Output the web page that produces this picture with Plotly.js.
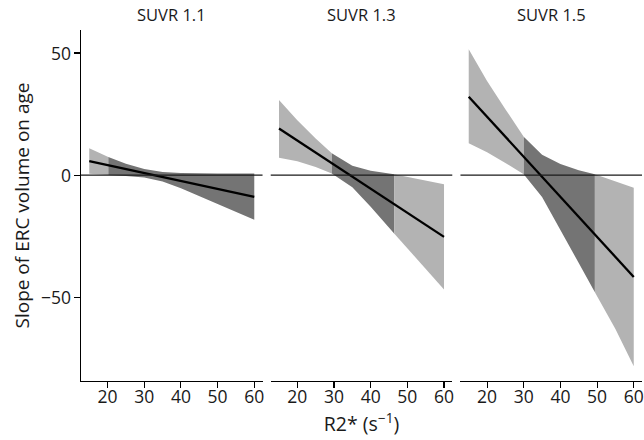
<!DOCTYPE html>
<html>
<head>
<meta charset="utf-8">
<script src="https://cdn.plot.ly/plotly-3.0.1.min.js"></script>
<style>html,body{margin:0;padding:0;background:#fff;}#chart{width:644px;height:440px;}</style>
</head>
<body>
<div id="chart"></div>
<script>
// ----- data -----
const panelTitles = ['SUVR 1.1', 'SUVR 1.3', 'SUVR 1.5'];
const xTicks = [20, 30, 40, 50, 60];
const yTicks = [-50, 0, 50];

const r2_11  = [15, 20.2, 25, 30, 35, 40, 45, 50, 55, 60];
const est_11 = [5.7, 4.0, 2.5, 0.8, -0.8, -2.4, -4.0, -5.6, -7.2, -8.9];
const hi_11  = [11.0, 7.4, 4.6, 2.5, 1.3, 0.9, 0.7, 0.7, 0.7, 0.7];
const lo_11  = [0.5, 0.0, -0.4, -1.0, -2.6, -5.4, -8.5, -11.8, -15.0, -18.3];
const dark_11 = [20.2, 60];

const r2_13  = [15, 20, 25, 29.4, 35, 40, 46.4, 50, 55, 60];
const est_13 = [19.1, 14.2, 9.2, 4.9, -0.6, -5.6, -11.9, -15.4, -20.4, -25.3];
const hi_13  = [30.7, 22.5, 15.0, 8.9, 3.8, 1.8, 0.3, -0.8, -2.3, -3.8];
const lo_13  = [7.1, 5.7, 3.3, 0.7, -5.0, -13.0, -23.9, -30.0, -38.4, -46.8];
const dark_13 = [29.4, 46.4];

const r2_15  = [15, 20, 25, 30, 35, 40, 45, 49.4, 55, 60];
const est_15 = [32.1, 23.9, 15.7, 7.5, -0.7, -8.9, -17.1, -24.3, -33.5, -41.7];
const hi_15  = [51.5, 38.5, 27.0, 15.7, 8.3, 4.5, 2.0, 0.3, -2.5, -5.2];
const lo_15  = [13.0, 9.3, 5.0, 0.3, -9.0, -22.5, -36.0, -48.0, -63.0, -78.3];
const dark_15 = [30, 49.4];

// ----- styling -----
const LIGHT = '#b3b3b3';
const DARK = '#747474';
const FONT = 'Open Sans, Noto Sans, DejaVu Sans, sans-serif';
const TXT = '#1a1a1a';
const PLOT_W = 561;

const panels = [
  {x: r2_11, est: est_11, hi: hi_11, lo: lo_11, dark: dark_11, xa: 'x'},
  {x: r2_13, est: est_13, hi: hi_13, lo: lo_13, dark: dark_13, xa: 'x2'},
  {x: r2_15, est: est_15, hi: hi_15, lo: lo_15, dark: dark_15, xa: 'x3'}
];

function band(p, idx, color) {
  if (idx.length < 2) return null;
  const xs = idx.map(i => p.x[i]);
  const up = idx.map(i => p.hi[i]);
  const dn = idx.map(i => p.lo[i]);
  return {
    type: 'scatter', mode: 'lines', xaxis: p.xa, yaxis: 'y',
    x: xs.concat(xs.slice().reverse()),
    y: up.concat(dn.slice().reverse()),
    fill: 'toself', fillcolor: color, line: {width: 0, color: color},
    hoverinfo: 'skip', showlegend: false
  };
}

const traces = [];
panels.forEach(p => {
  const all = p.x.map((_, i) => i);
  const left = all.filter(i => p.x[i] <= p.dark[0]);
  const mid = all.filter(i => p.x[i] >= p.dark[0] && p.x[i] <= p.dark[1]);
  const right = all.filter(i => p.x[i] >= p.dark[1]);
  [band(p, left, LIGHT), band(p, mid, DARK), band(p, right, LIGHT)].forEach(t => { if (t) traces.push(t); });
});
panels.forEach(p => {
  traces.push({
    type: 'scatter', mode: 'lines', xaxis: p.xa, yaxis: 'y',
    x: p.x, y: p.est, line: {color: '#000', width: 2.3},
    hoverinfo: 'skip', showlegend: false
  });
});

const gap = 8.2 / PLOT_W;
const w = (1 - 2 * gap) / 3;
const doms = [[0, w], [w + gap, 2 * w + gap], [2 * w + 2 * gap, 1]];

function xaxis(dom) {
  return {
    domain: dom, anchor: 'y', range: [12.75, 62.25],
    tickvals: xTicks, ticktext: xTicks.map(String),
    ticks: 'outside', ticklen: 6, tickwidth: 1.1, tickcolor: '#000',
    showline: true, linecolor: '#000', linewidth: 1.1,
    showgrid: false, zeroline: false,
    ticklabelstandoff: -6,
    tickfont: {family: FONT, size: 17.5, color: TXT}
  };
}

// facet strip titles
const annotations = panelTitles.map((t, i) => ({
  text: t, xref: 'paper', yref: 'paper',
  x: (doms[i][0] + doms[i][1]) / 2, y: 1 + 15 / 351,
  xanchor: 'center', yanchor: 'middle', showarrow: false,
  font: {family: FONT, size: 16.5, color: TXT}
}));
// y tick labels placed at the y axis values
yTicks.forEach(v => annotations.push({
  text: v < 0 ? '\u2212' + Math.abs(v) : String(v),
  xref: 'paper', yref: 'y', x: -9 / PLOT_W, y: v,
  xanchor: 'right', yanchor: 'middle', showarrow: false, borderpad: 0,
  font: {family: FONT, size: 17.5, color: TXT}
}));
// y axis title
annotations.push({
  text: 'Slope of ERC volume on age', xref: 'paper', yref: 'paper',
  x: -60 / PLOT_W, y: 0.5, xanchor: 'center', yanchor: 'middle',
  textangle: -90, showarrow: false,
  font: {family: FONT, size: 19, color: TXT}
});

const layout = {
  width: 644, height: 440,
  margin: {l: 81, r: 2, t: 30, b: 59},
  paper_bgcolor: '#fff', plot_bgcolor: '#fff',
  showlegend: false,
  xaxis: xaxis(doms[0]),
  xaxis2: Object.assign(xaxis(doms[1]), {
    title: {text: 'R2* (s<sup>\u2212</sup><sup>1</sup>)', font: {family: FONT, size: 19.5, color: TXT}, standoff: 4}
  }),
  xaxis3: xaxis(doms[2]),
  yaxis: {
    anchor: 'x', range: [-84.3, 59.4],
    tickvals: yTicks, showticklabels: false,
    ticks: 'outside', ticklen: 6, tickwidth: 1.1, tickcolor: '#000',
    showline: true, linecolor: '#000', linewidth: 1.1,
    showgrid: false, zeroline: false
  },
  shapes: ['x', 'x2', 'x3'].map(xa => ({
    type: 'line', xref: xa + ' domain', yref: 'y', x0: 0, x1: 1, y0: 0, y1: 0,
    line: {color: '#1a1a1a', width: 1.3}, layer: 'above'
  })),
  annotations: annotations
};

Plotly.newPlot('chart', traces, layout, {staticPlot: true, displayModeBar: false});
</script>
</body>
</html>
